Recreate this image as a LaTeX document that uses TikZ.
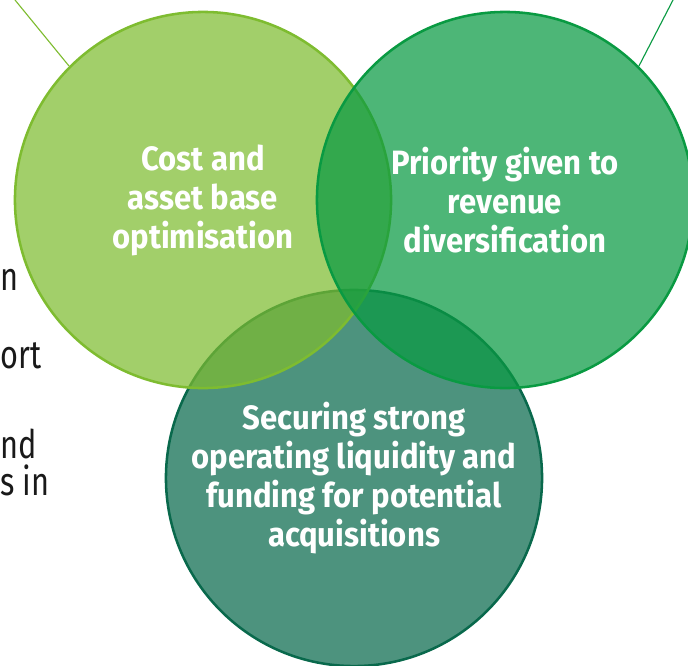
\documentclass[tikz,border=0pt]{standalone}
\usepackage{fontspec}
\setmainfont{Fira Sans}[FakeStretch=0.78]
\newfontfamily\goalfont{Fira Sans}[FakeStretch=0.92]
\definecolor{costgreen}{HTML}{7EBC30}
\definecolor{revgreen}{HTML}{099A42}
\definecolor{fundgreen}{HTML}{09694C}
\tikzset{
  goal/.style={circle, draw=#1, fill=#1, fill opacity=0.72, text opacity=1,
    line width=1.8pt, minimum size=9.4cm, inner sep=0pt, text=white,
    align=center, font=\goalfont\bfseries\fontsize{24}{27.7}\selectfont},
  side/.style={anchor=base west, inner sep=0pt, text=black!90,
    font=\fontsize{28}{30}\selectfont},
  leader/.style={line width=0.8pt}
}
\begin{document}
\begin{tikzpicture}[x=0.025cm, y=-0.025cm]
  \useasboundingbox (0,0) rectangle (688,665);
  \clip (0,0) rectangle (688,665);
  % the three goals, the lower one first so the others sit over it
  \node[goal=fundgreen] (fund) at (354,478)
    {Securing strong\\operating liquidity and\\funding for potential\\acquisitions};
  \node[goal=costgreen] (cost) at (203,200) {Cost and\\asset base\\optimisation};
  \node[goal=revgreen] (rev) at (505,200) {Priority given to\\revenue\\diversification};
  % leaders running off the top edge
  \coordinate (costend) at (15,0);
  \coordinate (revend) at (673,0);
  \draw[leader, costgreen] (cost.135) -- (costend);
  \draw[leader, revgreen] (rev.45) -- (revend);
  % cut text at the left border
  \node[side] (t1) at (0,290) {n};
  \node[side] (t2) at (0,368) {ort};
  \node[side] (t3) at (0,458) {nd};
  \node[side] (t4) at (0,495) {s in};
\end{tikzpicture}
\end{document}
